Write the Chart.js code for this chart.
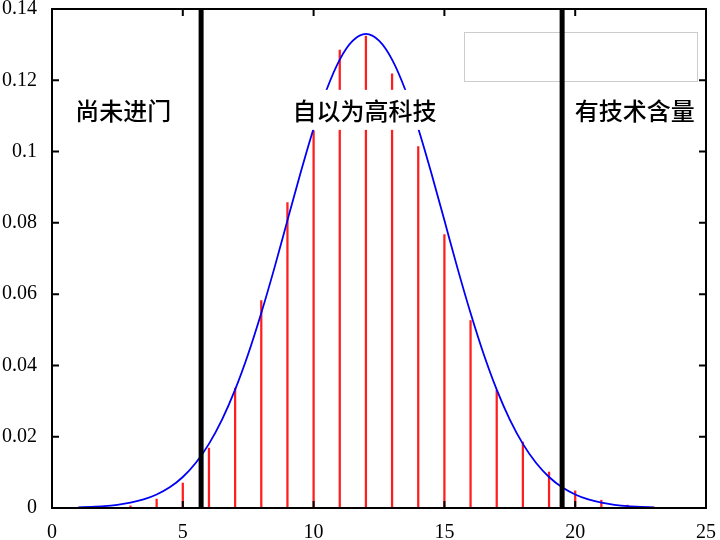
<!DOCTYPE html>
<html>
<head>
<meta charset="utf-8">
<script src="https://cdn.jsdelivr.net/npm/chart.js@4"></script>
<style>
  body { margin: 0; background: #fff; }
</style>
</head>
<body>
<canvas id="distChart" width="720" height="540"></canvas>
<script>
// binomial probabilities (red impulses)
var impulseX = [2, 3, 4, 5, 6, 7, 8, 9, 10, 11, 12, 13, 14, 15, 16, 17, 18, 19, 20, 21, 22, 23];
var impulseY = [0.0001, 0.0006, 0.0025, 0.0070, 0.0168, 0.0336, 0.0582, 0.0857, 0.1058, 0.1285, 0.1324,
                0.1218, 0.1014, 0.0767, 0.0526, 0.0330, 0.0185, 0.0101, 0.0048, 0.0022, 0.0008, 0.0003];

// normal curve (blue)
var curveX = [1, 1.5, 2, 2.5, 3, 3.5, 4, 4.5, 5, 5.5, 6, 6.5, 7, 7.5, 8, 8.5, 9, 9.5, 10, 10.5, 11, 11.5, 12,
              12.5, 13, 13.5, 14, 14.5, 15, 15.5, 16, 16.5, 17, 17.5, 18, 18.5, 19, 19.5, 20, 20.5, 21, 21.5, 22, 22.5, 23];
var curveY = [0.0002, 0.0003, 0.0005, 0.0009, 0.0015, 0.0024, 0.0038, 0.0058, 0.0087, 0.0127, 0.0180, 0.0248,
              0.0332, 0.0432, 0.0547, 0.0673, 0.0807, 0.0940, 0.1065, 0.1174, 0.1258, 0.1311, 0.1330,
              0.1311, 0.1258, 0.1174, 0.1065, 0.0940, 0.0807, 0.0673, 0.0547, 0.0432, 0.0332, 0.0248, 0.0180,
              0.0127, 0.0087, 0.0058, 0.0038, 0.0024, 0.0015, 0.0009, 0.0005, 0.0003, 0.0002];

// thick black separators
var cutX = [5.7, 19.5];

// region labels
var regionLabels = ["尚未进门", "自以为高科技", "有技术含量"];
var labelX = [2.72, 11.95, 22.28];
var labelY = 0.1117;

var xMin = 0, xMax = 25, xStep = 5;
var yMin = 0, yMax = 0.14, yStep = 0.02;

Chart.defaults.font.family = "'Liberation Serif', 'Times New Roman', serif";
Chart.defaults.font.size = 20;
Chart.defaults.color = "#000";

function pts(xs, ys) {
    return xs.map(function (x, i) { return { x: x, y: ys[i] }; });
}

var frame = {
    id: 'frame',
    beforeDatasetsDraw: function (chart) {
        var a = chart.chartArea, c = chart.ctx;
        // empty key box
        c.save();
        c.strokeStyle = "#cccccc";
        c.lineWidth = 1;
        c.strokeRect(a.right - 241.5, a.top + 23.5, 233, 49);
        c.restore();
    },
    afterDatasetsDraw: function (chart) {
        var a = chart.chartArea, c = chart.ctx;
        var xs = chart.scales.x, ys = chart.scales.y;
        c.save();
        // labels with white boxes
        c.font = "500 24px 'Noto Sans CJK SC'";
        c.textAlign = "center";
        c.textBaseline = "middle";
        regionLabels.forEach(function (t, i) {
            var px = xs.getPixelForValue(labelX[i]);
            var py = ys.getPixelForValue(labelY);
            var w = c.measureText(t).width + 8;
            c.fillStyle = "#fff";
            c.fillRect(px - w / 2, py - 20, w, 40);
            c.fillStyle = "#000";
            c.fillText(t, px, py + 1);
        });
        // frame and inward ticks
        c.strokeStyle = "#000";
        c.lineWidth = 2;
        c.strokeRect(a.left, a.top, a.right - a.left, a.bottom - a.top);
        var tl = 7;
        c.beginPath();
        xs.ticks.forEach(function (t) {
            var px = xs.getPixelForValue(t.value);
            c.moveTo(px, a.bottom); c.lineTo(px, a.bottom - tl);
            c.moveTo(px, a.top); c.lineTo(px, a.top + tl);
        });
        ys.ticks.forEach(function (t) {
            var py = ys.getPixelForValue(t.value);
            c.moveTo(a.left, py); c.lineTo(a.left + tl, py);
            c.moveTo(a.right, py); c.lineTo(a.right - tl, py);
        });
        c.stroke();
        c.restore();
    }
};

var ctx = document.getElementById('distChart');
var distChart = new Chart(ctx, {
    type: 'line',
    plugins: [frame],
    data: {
        datasets: [{
            type: 'bar',
            data: pts(impulseX, impulseY),
            backgroundColor: "rgb(255,30,30)",
            barThickness: 1.6,
            order: 3
        }, {
            type: 'line',
            data: pts(curveX, curveY),
            borderColor: "rgb(0,0,245)",
            borderWidth: 1.8,
            pointRadius: 0,
            cubicInterpolationMode: 'monotone',
            fill: false,
            order: 2
        }, {
            type: 'line',
            data: [{ x: cutX[0], y: yMin }, { x: cutX[0], y: yMax }],
            borderColor: "#000",
            borderWidth: 5,
            pointRadius: 0,
            order: 1
        }, {
            type: 'line',
            data: [{ x: cutX[1], y: yMin }, { x: cutX[1], y: yMax }],
            borderColor: "#000",
            borderWidth: 5,
            pointRadius: 0,
            order: 1
        }]
    },
    options: {
        responsive: false,
        animation: false,
        layout: { padding: { top: 9, right: 14, left: 0, bottom: 0 } },
        plugins: {
            legend: { display: false },
            tooltip: { enabled: false }
        },
        scales: {
            x: {
                type: 'linear',
                min: xMin,
                max: xMax,
                offset: false,
                grid: { display: false },
                border: { display: false },
                ticks: { stepSize: xStep, padding: 5, maxRotation: 0 },
                afterFit: function (s) {
                    s.height = 32;
                    s.paddingLeft = 0;
                    s.paddingRight = 0;
                }
            },
            y: {
                min: yMin,
                max: yMax,
                grid: { display: false },
                border: { display: false },
                ticks: {
                    stepSize: yStep,
                    padding: 7,
                    callback: function (v) { return String(+v.toFixed(2)); }
                },
                afterFit: function (s) {
                    s.width = 52;
                    s.paddingTop = 0;
                    s.paddingBottom = 0;
                }
            }
        }
    }
});
</script>
</body>
</html>
